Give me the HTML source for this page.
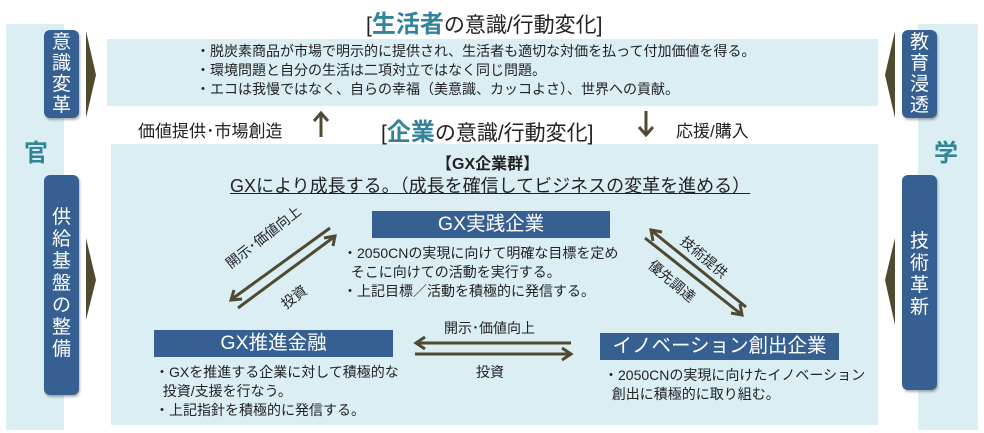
<!DOCTYPE html>
<html><head><meta charset="utf-8"><style>
body{margin:0;width:984px;height:433px;background:#fff;position:relative;overflow:hidden;font-family:"Liberation Sans","Noto Sans CJK JP",sans-serif;color:#222}
.a{position:absolute;white-space:nowrap}
.lb{background:#daeef3}
.pill{position:absolute;background:#366092;color:#fff;border-radius:6px;width:35px;font-size:19px;line-height:21px;text-align:center;box-shadow:1px 2px 2px rgba(0,0,0,.3)}
.nb{position:absolute;background:#366092;color:#fff;font-size:19.5px;text-align:center;line-height:27px}
.t{font-size:14px;line-height:18px}
.tl{color:#31849b;font-weight:bold}
</style></head><body>
<div class="a lb" style="left:6px;top:24px;width:58px;height:406px"></div>
<div class="a lb" style="left:918px;top:24px;width:60px;height:406px"></div>
<div class="a lb" style="left:107px;top:39px;width:771px;height:67px"></div>
<div class="a lb" style="left:111px;top:144px;width:767px;height:281px"></div>
<div class="a tl" style="left:24px;top:133px;font-size:24px">官</div>
<div class="a tl" style="left:934px;top:133px;font-size:24px">学</div>
<div class="pill" style="left:44px;top:30px;height:88px;padding-top:2px;box-sizing:border-box">意<br>識<br>変<br>革</div>
<div class="pill" style="left:44px;top:175px;height:220px;padding-top:32px;box-sizing:border-box;line-height:22px">供<br>給<br>基<br>盤<br>の<br>整<br>備</div>
<div class="pill" style="left:902px;top:30px;height:88px;padding-top:2px;box-sizing:border-box">教<br>育<br>浸<br>透</div>
<div class="pill" style="left:902px;top:175px;height:215px;padding-top:56px;box-sizing:border-box;line-height:22px">技<br>術<br>革<br>新</div>
<div class="a" style="left:366px;top:4px;font-size:21px">[<span class="tl" style="font-size:24px">生活者</span>の意識/行動変化]</div>
<div class="a" style="left:381px;top:112px;font-size:21px">[<span class="tl" style="font-size:24px">企業</span>の意識/行動変化]</div>
<div class="a t" style="left:196px;top:42px;line-height:19px">・脱炭素商品が市場で明示的に提供され、生活者も適切な対価を払って付加価値を得る。<br>・環境問題と自分の生活は二項対立ではなく同じ問題。<br>・エコは我慢ではなく、自らの幸福（美意識、カッコよさ）、世界への貢献。</div>
<div class="a" style="left:138px;top:117px;font-size:17px">価値提供･市場創造</div>
<div class="a" style="left:676px;top:117px;font-size:17px">応援/購入</div>
<div class="a" style="left:436px;top:150px;font-size:16px;font-weight:bold">【GX企業群】</div>
<div class="a" style="left:230px;top:172px;font-size:18px;text-decoration:underline">GXにより成長する。（成長を確信してビジネスの変革を進める）</div>
<div class="nb" style="left:372px;top:211px;width:238px">GX実践企業</div>
<div class="nb" style="left:154px;top:330px;width:239px">GX推進金融</div>
<div class="nb" style="left:600px;top:333px;width:239px">イノベーション創出企業</div>
<div class="a t" style="left:343px;top:244px;line-height:19px">・2050CNの実現に向けて明確な目標を定め<br>&nbsp;&nbsp;そこに向けての活動を実行する。<br>・上記目標／活動を積極的に発信する。</div>
<div class="a t" style="left:155px;top:363px;line-height:19px">・GXを推進する企業に対して積極的な<br>&nbsp;&nbsp;投資/支援を行なう。<br>・上記指針を積極的に発信する。</div>
<div class="a t" style="left:604px;top:366px;line-height:19px">・2050CNの実現に向けたイノベーション<br>&nbsp;&nbsp;創出に積極的に取り組む。</div>
<div class="a t" style="left:444px;top:319px">開示･価値向上</div>
<div class="a t" style="left:476px;top:363px">投資</div>
<div class="a t" style="left:222px;top:258px;transform:rotate(-38deg);transform-origin:left top">開示･価値向上</div>
<div class="a t" style="left:280px;top:288px;transform:rotate(-38deg)">投資</div>
<div class="a t" style="left:676px;top:248px;transform:rotate(40deg)">技術提供</div>
<div class="a t" style="left:644px;top:272px;transform:rotate(40deg)">優先調達</div>
<svg class="a" style="left:0;top:0" width="984" height="433">
<g fill="#4f4a30">
<polygon points="86,31 96,75 86,118"/>
<polygon points="86,238 96,280 86,320"/>
<polygon points="895,31 885,75 895,118"/>
<polygon points="895,238 885,280 895,325"/>
</g>
<g stroke="#4f4a30" stroke-width="3" fill="none">
<line x1="321" y1="137" x2="321" y2="114"/><polyline points="314,121 321,113 328,121"/>
<line x1="646" y1="111" x2="646" y2="134"/><polyline points="639,127 646,135 653,127"/>
<line x1="571" y1="343" x2="417" y2="343"/><polyline points="425,337 416,343 425,349"/>
<line x1="415" y1="354" x2="570" y2="354"/><polyline points="562,348 571,354 562,360"/>
<line x1="330" y1="228" x2="232" y2="299"/><polyline points="234,290 231,300 242,299"/>
<line x1="238" y1="308" x2="334" y2="237"/><polyline points="324,238 335,236 333,246"/>
<line x1="746" y1="307" x2="652" y2="231"/><polyline points="653,241 651,230 662,232"/>
<line x1="645" y1="238" x2="741" y2="314"/><polyline points="731,313 742,315 740,304"/>
</g>
</svg>
</body></html>
